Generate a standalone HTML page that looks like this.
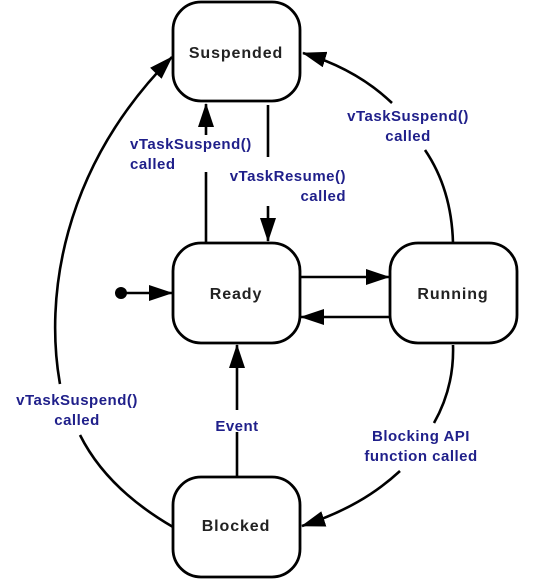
<!DOCTYPE html>
<html><head><meta charset="utf-8"><style>
html,body{margin:0;padding:0;background:#fff;}
svg{display:block}
.n{font:bold 16px "Liberation Sans",sans-serif;fill:#222;text-anchor:middle;letter-spacing:0.9px}
.l{font:bold 15px "Liberation Sans",sans-serif;fill:#1f1f8a;letter-spacing:0.5px}
</style></head><body>
<svg width="547" height="579" viewBox="0 0 547 579" xmlns="http://www.w3.org/2000/svg">
<defs>
<marker id="b" viewBox="0 0 24 16" markerWidth="24" markerHeight="16" refX="23" refY="8" orient="auto" markerUnits="userSpaceOnUse"><path d="M0,0 L24,8 L0,16 z" fill="#000"/></marker></defs>
<g fill="#fff" stroke="#000" stroke-width="2.8">
<rect x="173" y="2" width="127" height="99" rx="28"/>
<rect x="173" y="243" width="127" height="100" rx="28"/>
<rect x="390" y="243" width="127" height="100" rx="28"/>
<rect x="173" y="477" width="127" height="100" rx="28"/>
</g>
<g stroke="#000" stroke-width="2.6" fill="none">
<line x1="206" y1="243" x2="206" y2="172"/>
<line x1="206" y1="135" x2="206" y2="104" marker-end="url(#b)"/>
<line x1="268" y1="105" x2="268" y2="157"/>
<line x1="268" y1="206" x2="268" y2="241" marker-end="url(#b)"/>
<line x1="300" y1="277" x2="389" y2="277" marker-end="url(#b)"/>
<line x1="390" y1="317" x2="301" y2="317" marker-end="url(#b)"/>
<line x1="121" y1="293" x2="172" y2="293" marker-end="url(#b)"/>
<line x1="237" y1="476" x2="237" y2="432"/>
<line x1="237" y1="410" x2="237" y2="345" marker-end="url(#b)"/>
<path d="M453,243 C452,205 442,175 425,150"/>
<path d="M392,103 C370,82 340,64 303,53" marker-end="url(#b)"/>
<path d="M60,384 C45,300 60,170 172,57" marker-end="url(#b)"/>
<path d="M80,435 C100,475 135,505 173,527"/>
<path d="M453,345 C454,375 447,400 434,423"/>
<path d="M400,471 C375,494 345,512 302,526" marker-end="url(#b)"/>
</g>
<circle cx="121" cy="293" r="6" fill="#000"/>
<text class="n" x="236" y="58">Suspended</text>
<text class="n" x="236" y="299">Ready</text>
<text class="n" x="453" y="299">Running</text>
<text class="n" x="236" y="531">Blocked</text>
<text class="l" x="130" y="149">vTaskSuspend()</text>
<text class="l" x="130" y="169">called</text>
<text class="l" x="346" y="181" text-anchor="end">vTaskResume()</text>
<text class="l" x="346" y="201" text-anchor="end">called</text>
<text class="l" x="408" y="121" text-anchor="middle">vTaskSuspend()</text>
<text class="l" x="408" y="141" text-anchor="middle">called</text>
<text class="l" x="77" y="405" text-anchor="middle">vTaskSuspend()</text>
<text class="l" x="77" y="425" text-anchor="middle">called</text>
<text class="l" x="237" y="431" text-anchor="middle">Event</text>
<text class="l" x="421" y="441" text-anchor="middle">Blocking API</text>
<text class="l" x="421" y="461" text-anchor="middle">function called</text>
</svg>
</body></html>
